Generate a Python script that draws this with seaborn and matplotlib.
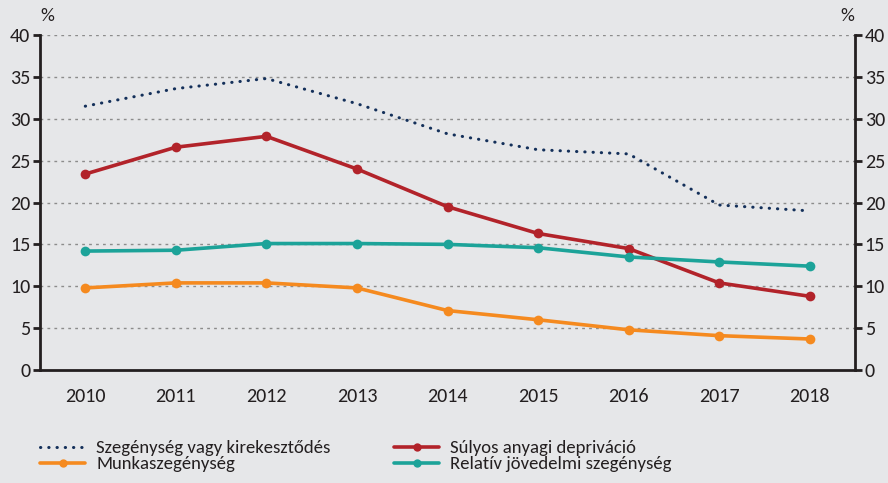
import pandas as pd
import numpy as np
import matplotlib.pyplot as plt
import seaborn as sns

# ── Data ──────────────────────────────────────────────────────────────────────
years = [2010, 2011, 2012, 2013, 2014, 2015, 2016, 2017, 2018]
arope = [31.5, 33.6, 34.8, 31.8, 28.2, 26.3, 25.8, 19.7, 19.0]
severe_dep = [23.4, 26.6, 27.9, 24.0, 19.5, 16.3, 14.5, 10.4, 8.8]
in_work = [9.8, 10.4, 10.4, 9.8, 7.1, 6.0, 4.8, 4.1, 3.7]
relative = [14.2, 14.3, 15.1, 15.1, 15.0, 14.6, 13.5, 12.9, 12.4]
y_ticks = [0, 5, 10, 15, 20, 25, 30, 35, 40]

names = ['Szegénység vagy kirekesztődés', 'Munkaszegénység',
         'Súlyos anyagi depriváció', 'Relatív jövedelmi szegénység']
series = [arope, in_work, severe_dep, relative]

# ── Settings ──────────────────────────────────────────────────────────────────
BG = '#E6E7E9'
INK = '#231F20'
colors = {names[0]: '#14305A', names[1]: '#F58A1F',
          names[2]: '#B2232A', names[3]: '#1CA399'}

sns.set_theme(style='white')
plt.rcParams['font.family'] = ['Carlito', 'DejaVu Sans']

df = pd.DataFrame({
    'pos': np.tile(np.arange(len(years)), len(names)),
    'value': np.concatenate(series),
    'series': np.repeat(names, len(years)),
})

W, H = 888, 483
fig = plt.figure(figsize=(W / 100, H / 100), dpi=100, facecolor=BG)
ax = fig.add_axes([40 / W, 1 - 370 / H, 815 / W, 335 / H])
ax.set_facecolor(BG)

handles = {}
for name in names:
    d = df[df['series'] == name]
    if name == names[0]:
        sns.lineplot(data=d, x='pos', y='value', ax=ax, color=colors[name],
                     linewidth=2.2, linestyle=(0, (0.1, 2.6)),
                     dash_capstyle='round', label=name)
    else:
        sns.lineplot(data=d, x='pos', y='value', ax=ax, color=colors[name],
                     linewidth=2.6, marker='o', markersize=7,
                     markeredgewidth=0, label=name)
h, l = ax.get_legend_handles_labels()
ax.get_legend().remove()
for hh, ll in zip(h, l):
    handles[ll] = hh

ax.set_xlim(-0.5, len(years) - 0.5)
ax.set_ylim(0, 40)
ax.set_yticks(y_ticks)
ax.set_xticks(np.arange(len(years)))
ax.set_xticklabels([str(y) for y in years])
ax.set_xticks(np.arange(-0.5, len(years) + 0.5, 1), minor=True)
ax.set_xlabel('')
ax.set_ylabel('')

for yv in y_ticks[1:]:
    ax.axhline(yv, color='#8C8C8C', linewidth=1, linestyle=(0, (2, 3)), zorder=0)

ax.tick_params(axis='x', which='major', length=0, labelsize=14.5, pad=13,
               colors=INK)
ax.tick_params(axis='x', which='minor', length=6, width=2, color=INK,
               direction='out')
ax.tick_params(axis='y', length=5, width=2, color=INK, labelsize=14.5,
               labelcolor=INK, left=True, right=True,
               labelleft=True, labelright=True, pad=2)

ax.spines['top'].set_visible(False)
for s in ['left', 'right', 'bottom']:
    ax.spines[s].set_color(INK)
    ax.spines[s].set_linewidth(2)

fig.text(47 / W, 1 - 16 / H, '%', fontsize=14, color=INK, ha='center', va='center')
fig.text(847 / W, 1 - 16 / H, '%', fontsize=14, color=INK, ha='center', va='center')

# two legend columns placed separately
for col, x0 in [(names[:2], 40), (names[2:], 394)]:
    leg = fig.legend([handles[n] for n in col], col, ncol=1,
                     loc='upper left', bbox_to_anchor=(x0 / W, 1 - 440 / H),
                     frameon=False, handlelength=2.4, fontsize=13.5,
                     handletextpad=0.6, labelspacing=0.0,
                     numpoints=1, borderaxespad=0, borderpad=0)
    for t in leg.get_texts():
        t.set_color(INK)
    for lh in leg.get_lines():
        lh.set_markersize(6)

fig.savefig('out.png', dpi=100, facecolor=BG)
